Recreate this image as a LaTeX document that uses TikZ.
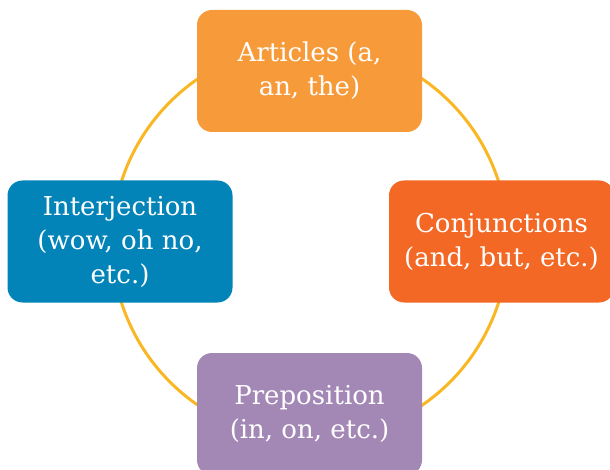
\documentclass[tikz,border=0pt]{standalone}
\usepackage{fontspec}
\setmainfont{DejaVu Serif}
\definecolor{ringc}{HTML}{F9B823}
\definecolor{topc}{HTML}{F79B3A}
\definecolor{rightc}{HTML}{F26824}
\definecolor{leftc}{HTML}{0284B9}
\definecolor{botc}{HTML}{A388B6}
\begin{document}
\begin{tikzpicture}[x=1pt,y=1pt,
  card/.style={rectangle, rounded corners=15pt, minimum width=225pt, minimum height=122pt,
    inner sep=0pt, text=white, align=center, font=\fontsize{26}{34}\selectfont}]
\useasboundingbox (0,0) rectangle (610,469);
\coordinate (c) at (310,227);
\draw[ringc, line width=3pt] (c) circle (198);
\node[card, fill=topc] (art) at (309.5,398) {Articles (a,\\an, the)};
\node[card, fill=rightc] (con) at (501.5,227.5) {Conjunctions\\(and, but, etc.)};
\node[card, fill=leftc] (int) at (120,227.5) {Interjection\\(wow, oh no,\\etc.)};
\node[card, fill=botc] (pre) at (309.5,55) {Preposition\\(in, on, etc.)};
\end{tikzpicture}
\end{document}
